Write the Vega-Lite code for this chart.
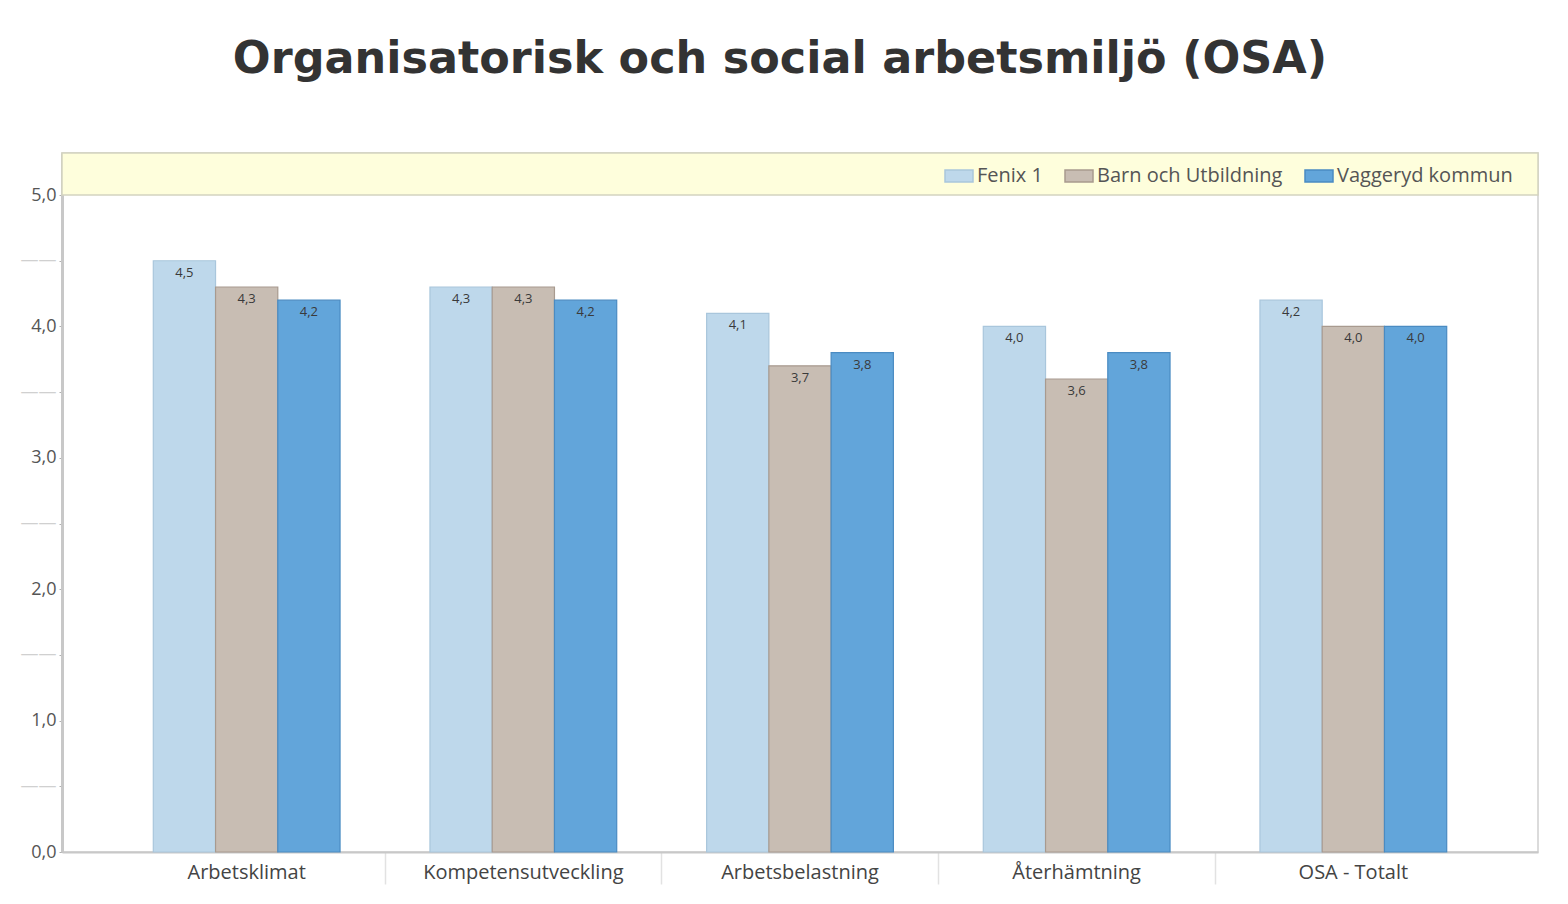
{
  "$schema": "https://vega.github.io/schema/vega-lite/v6.json",
  "autosize": {"type": "none"},
  "width": 1476,
  "height": 699,
  "padding": {"left": 62, "top": 153, "right": 30, "bottom": 52},
  "background": "#ffffff",
  "config": {
    "locale": {"number": {"decimal": ",", "thousands": " ", "grouping": [3], "currency": ["", " kr"]}},
    "view": {"stroke": "#cfcfcf", "strokeWidth": 1.5},
    "font": "Open Sans"
  },
  "title": {
    "text": "Organisatorisk och social arbetsmiljö (OSA)",
    "font": "DejaVu Sans",
    "fontWeight": "bold",
    "fontSize": 44.5,
    "color": "#333333",
    "anchor": "middle",
    "dx": -20,
    "offset": 70
  },
  "layer": [
    {
      "data": {"values": [{"lo": 5, "hi": 5.32}]},
      "mark": {"type": "rect", "fill": "#fefedc", "stroke": "#d4d4c0", "strokeWidth": 1.5},
      "encoding": {
        "y": {"field": "lo", "type": "quantitative", "scale": {"domain": [0, 5.32], "nice": false}},
        "y2": {"field": "hi"}
      }
    },
    {
      "data": {
        "values": [
          {"kategori": "Arbetsklimat", "grupp": "Fenix 1", "varde": 4.5},
          {"kategori": "Arbetsklimat", "grupp": "Barn och Utbildning", "varde": 4.3},
          {"kategori": "Arbetsklimat", "grupp": "Vaggeryd kommun", "varde": 4.2},
          {"kategori": "Kompetensutveckling", "grupp": "Fenix 1", "varde": 4.3},
          {"kategori": "Kompetensutveckling", "grupp": "Barn och Utbildning", "varde": 4.3},
          {"kategori": "Kompetensutveckling", "grupp": "Vaggeryd kommun", "varde": 4.2},
          {"kategori": "Arbetsbelastning", "grupp": "Fenix 1", "varde": 4.1},
          {"kategori": "Arbetsbelastning", "grupp": "Barn och Utbildning", "varde": 3.7},
          {"kategori": "Arbetsbelastning", "grupp": "Vaggeryd kommun", "varde": 3.8},
          {"kategori": "Återhämtning", "grupp": "Fenix 1", "varde": 4.0},
          {"kategori": "Återhämtning", "grupp": "Barn och Utbildning", "varde": 3.6},
          {"kategori": "Återhämtning", "grupp": "Vaggeryd kommun", "varde": 3.8},
          {"kategori": "OSA - Totalt", "grupp": "Fenix 1", "varde": 4.2},
          {"kategori": "OSA - Totalt", "grupp": "Barn och Utbildning", "varde": 4.0},
          {"kategori": "OSA - Totalt", "grupp": "Vaggeryd kommun", "varde": 4.0}
        ]
      },
      "encoding": {
        "x": {
          "field": "kategori",
          "type": "nominal",
          "sort": null,
          "title": null,
          "scale": {"paddingInner": 0.325, "paddingOuter": 0.33},
          "axis": {
            "labelAngle": 0,
            "labelFont": "Open Sans",
            "labelFontSize": 20,
            "labelColor": "#444444",
            "labelLimit": 400,
            "domainColor": "#c8c8c8",
            "domainWidth": 2,
            "bandPosition": -0.24,
            "tickSize": 32,
            "tickWidth": 1.5,
            "tickColor": {"condition": {"test": "datum.value === 'Arbetsklimat'", "value": "transparent"}, "value": "#e2e2e2"},
            "labelPadding": -22
          }
        },
        "xOffset": {"field": "grupp", "type": "nominal", "sort": ["Fenix 1", "Barn och Utbildning", "Vaggeryd kommun"], "scale": {"paddingInner": 0, "paddingOuter": 0}},
        "y": {
          "field": "varde",
          "type": "quantitative",
          "title": null,
          "scale": {"domain": [0, 5.32], "nice": false},
          "axis": {
            "values": [0, 0.5, 1, 1.5, 2, 2.5, 3, 3.5, 4, 4.5, 5],
            "format": ".1f",
            "labelExpr": "datum.value % 1 ? '\u2014\u2014\u00a0\u00a0\u00a0' : datum.label",
            "labelColor": {"condition": {"test": "datum.value % 1", "value": "#d0d0d0"}, "value": "#555555"},
            "labelFont": "Open Sans",
            "labelFontSize": 18,
            "labelPadding": 3,
            "grid": false,
            "domainColor": "#c8c8c8",
            "domainWidth": 3,
            "tickSize": 3,
            "tickColor": "#b0b0b0"
          }
        }
      },
      "layer": [
        {
          "mark": {"type": "bar", "strokeWidth": 1.2},
          "encoding": {
            "color": {
              "field": "grupp",
              "type": "nominal",
              "sort": ["Fenix 1", "Barn och Utbildning", "Vaggeryd kommun"],
              "scale": {"domain": ["Fenix 1", "Barn och Utbildning", "Vaggeryd kommun"], "range": ["#bed8eb", "#c8bdb3", "#62a5da"]},
              "legend": {
                "title": null,
                "orient": "none",
                "legendX": 882,
                "legendY": 8,
                "direction": "horizontal",
                "symbolType": "M-1,-0.43H1V0.43H-1Z",
                "symbolSize": 784,
                "symbolStrokeWidth": 1.5,
                "labelFont": "Open Sans",
                "labelFontSize": 20,
                "labelColor": "#555555",
                "labelOffset": 3,
                "columnPadding": 19,
                "labelLimit": 300
              }
            },
            "stroke": {
              "field": "grupp",
              "type": "nominal",
              "scale": {"domain": ["Fenix 1", "Barn och Utbildning", "Vaggeryd kommun"], "range": ["#a9c6dc", "#a89a8f", "#4a8bc2"]},
              "legend": null
            }
          }
        },
        {
          "mark": {"type": "text", "baseline": "middle", "dy": 12, "fontSize": 13, "font": "Open Sans", "color": "#3a3a3a"},
          "encoding": {
            "text": {"field": "varde", "type": "quantitative", "format": ".1f"}
          }
        }
      ]
    }
  ]
}
